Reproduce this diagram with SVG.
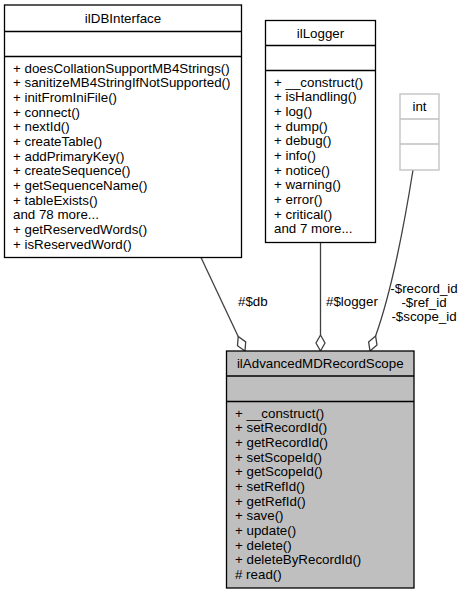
<svg xmlns="http://www.w3.org/2000/svg" width="465" height="595" viewBox="0 0 465 595">
<style>
text{font-family:"Liberation Sans",Arial,Helvetica,sans-serif;font-size:13.33px;fill:#000}
.t{text-anchor:middle}
.box{fill:#fff;stroke:#000;stroke-width:1.3}
.sep{stroke:#000;stroke-width:1.3}
.gbox{fill:#fff;stroke:#bfbfbf;stroke-width:1.3}
.gsep{stroke:#bfbfbf;stroke-width:1.3}
.main{fill:#bfbfbf;stroke:#000;stroke-width:1.3}
.edge{fill:none;stroke:#404040;stroke-width:1.3}
.dia{fill:#fff;stroke:#404040;stroke-width:1.3}
</style>
<rect width="465" height="595" fill="#fff"/>
<g id="edges">
<path class="edge" d="M201,257.5 L238.2,336.5"/>
<polygon class="dia" points="245,351 237.5,345.7 238.2,336.5 245.7,341.9"/>
<text x="238" y="306">#$db</text>
<path class="edge" d="M320.5,242.5 L320.5,335"/>
<polygon class="dia" points="320.5,351 325,343 320.5,335 316,343"/>
<text x="326" y="306">#$logger</text>
<path class="edge" d="M413,170 C405,220 392,290 375.6,336"/>
<polygon class="dia" points="370,351 368.6,341.9 375.6,336 377,345.1"/>
<text class="t" x="424" y="293">-$record_id</text>
<text class="t" x="424" y="307">-$ref_id</text>
<text class="t" x="424" y="321">-$scope_id</text>
</g>
<g id="ilDBInterface">
<rect class="box" x="4.5" y="5" width="237" height="252.5"/>
<line class="sep" x1="4.5" y1="31.5" x2="241.5" y2="31.5"/>
<line class="sep" x1="4.5" y1="56.5" x2="241.5" y2="56.5"/>
<text class="t" x="123" y="23">ilDBInterface</text>
<text x="13" y="72.5"><tspan x="13">+ doesCollationSupportMB4Strings()</tspan><tspan x="13" dy="14.67">+ sanitizeMB4StringIfNotSupported()</tspan><tspan x="13" dy="14.67">+ initFromIniFile()</tspan><tspan x="13" dy="14.67">+ connect()</tspan><tspan x="13" dy="14.67">+ nextId()</tspan><tspan x="13" dy="14.67">+ createTable()</tspan><tspan x="13" dy="14.67">+ addPrimaryKey()</tspan><tspan x="13" dy="14.67">+ createSequence()</tspan><tspan x="13" dy="14.67">+ getSequenceName()</tspan><tspan x="13" dy="14.67">+ tableExists()</tspan><tspan x="13" dy="14.67">and 78 more...</tspan><tspan x="13" dy="14.67">+ getReservedWords()</tspan><tspan x="13" dy="14.67">+ isReservedWord()</tspan></text>
</g>
<g id="ilLogger">
<rect class="box" x="265.5" y="20.5" width="110" height="222"/>
<line class="sep" x1="265.5" y1="45.5" x2="375.5" y2="45.5"/>
<line class="sep" x1="265.5" y1="70.5" x2="375.5" y2="70.5"/>
<text class="t" x="320.5" y="37.5">ilLogger</text>
<text x="274" y="86.5"><tspan x="274">+ __construct()</tspan><tspan x="274" dy="14.67">+ isHandling()</tspan><tspan x="274" dy="14.67">+ log()</tspan><tspan x="274" dy="14.67">+ dump()</tspan><tspan x="274" dy="14.67">+ debug()</tspan><tspan x="274" dy="14.67">+ info()</tspan><tspan x="274" dy="14.67">+ notice()</tspan><tspan x="274" dy="14.67">+ warning()</tspan><tspan x="274" dy="14.67">+ error()</tspan><tspan x="274" dy="14.67">+ critical()</tspan><tspan x="274" dy="14.67">and 7 more...</tspan></text>
</g>
<g id="int">
<rect class="gbox" x="400" y="94" width="39" height="76"/>
<line class="gsep" x1="400" y1="119" x2="439" y2="119"/>
<line class="gsep" x1="400" y1="144" x2="439" y2="144"/>
<text class="t" x="419.5" y="111">int</text>
</g>
<g id="ilAdvancedMDRecordScope">
<rect class="main" x="226.5" y="351" width="187.5" height="237"/>
<line class="sep" x1="226.5" y1="376" x2="414" y2="376"/>
<line class="sep" x1="226.5" y1="401.5" x2="414" y2="401.5"/>
<text class="t" x="320.25" y="368">ilAdvancedMDRecordScope</text>
<text x="235" y="417.5"><tspan x="235">+ __construct()</tspan><tspan x="235" dy="14.67">+ setRecordId()</tspan><tspan x="235" dy="14.67">+ getRecordId()</tspan><tspan x="235" dy="14.67">+ setScopeId()</tspan><tspan x="235" dy="14.67">+ getScopeId()</tspan><tspan x="235" dy="14.67">+ setRefId()</tspan><tspan x="235" dy="14.67">+ getRefId()</tspan><tspan x="235" dy="14.67">+ save()</tspan><tspan x="235" dy="14.67">+ update()</tspan><tspan x="235" dy="14.67">+ delete()</tspan><tspan x="235" dy="14.67">+ deleteByRecordId()</tspan><tspan x="235" dy="14.67"># read()</tspan></text>
</g>
</svg>
